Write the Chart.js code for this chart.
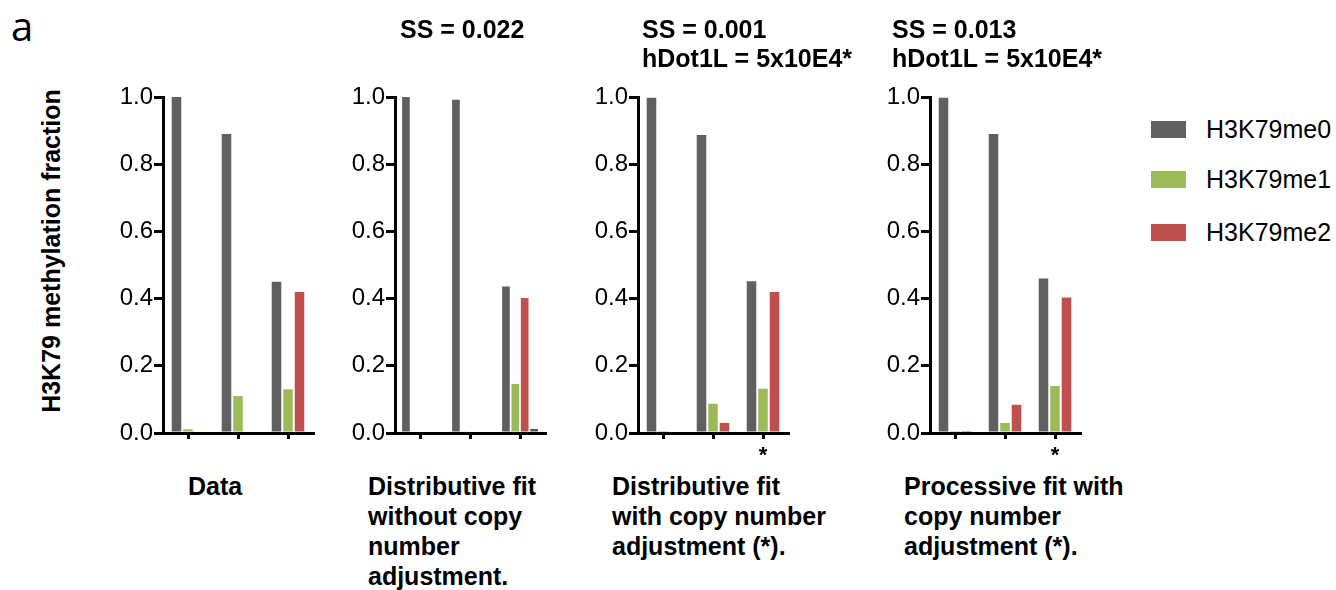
<!DOCTYPE html>
<html>
<head>
<meta charset="utf-8">
<script src="https://cdn.jsdelivr.net/npm/chart.js@4.4.0/dist/chart.umd.min.js"></script>
<style>
  body { margin: 0; width: 1336px; height: 590px; background: #fff; position: relative; overflow: hidden;
         font-family: "Liberation Sans", Arial, sans-serif; color: #000; }
  canvas { position: absolute; top: 0; }
  .lbl { position: absolute; font-weight: bold; font-size: 25px; white-space: pre; }
  .top { line-height: 29px; top: 15px; }
  .bottom { line-height: 30px; top: 471px; }
  .panel-a { position: absolute; left: 11px; top: -2px; font-family: "Open Sans", sans-serif; font-size: 40px; }
  .ytitle { position: absolute; left: 51px; top: 251px; font-weight: bold; font-size: 25px; white-space: nowrap;
            transform: translate(-50%, -50%) rotate(-90deg); }
  .leg { position: absolute; left: 1151px; width: 35px; height: 17px; }
  .legtxt { position: absolute; left: 1206px; font-size: 25px; line-height: 25px; }
</style>
</head>
<body>
<div class="panel-a">a</div>
<div class="ytitle">H3K79 methylation fraction</div>

<canvas id="p_data" width="240" height="470"></canvas>
<canvas id="p_dist" width="240" height="470"></canvas>
<canvas id="p_distcopy" width="240" height="470"></canvas>
<canvas id="p_proccopy" width="240" height="470"></canvas>

<div class="lbl top" style="left:400px">SS = 0.022</div>
<div class="lbl top" style="left:642px">SS = 0.001
hDot1L = 5x10E4*</div>
<div class="lbl top" style="left:892px">SS = 0.013
hDot1L = 5x10E4*</div>

<div class="lbl bottom" style="left:188px">Data</div>
<div class="lbl bottom" style="left:368px">Distributive fit
without copy
number
adjustment.</div>
<div class="lbl bottom" style="left:612px">Distributive fit
with copy number
adjustment (*).</div>
<div class="lbl bottom" style="left:904px">Processive fit with
copy number
adjustment (*).</div>

<div id="legend"></div>

<script>
// categories (three time points, unlabeled in the figure) and the marks under them
const categories = ['t1', 't2', 't3'];
const starNone = ['', '', ''];
const starLast = ['', '', '*'];
const yTicks = [0.0, 0.2, 0.4, 0.6, 0.8, 1.0];

const seriesNames = ['H3K79me0', 'H3K79me1', 'H3K79me2', 'H3K79me3'];
const seriesColors = ['#606060', '#9bbb59', '#c0504d', '#555555'];

// Data
const me0_data = [1.0, 0.89, 0.45];
const me1_data = [0.011, 0.11, 0.13];
const me2_data = [0.0, 0.0, 0.42];

// Distributive fit without copy number adjustment
const me0_dist = [1.0, 0.992, 0.436];
const me1_dist = [0.0, 0.005, 0.146];
const me2_dist = [0.0, 0.0, 0.402];
const me3_dist = [0.0, 0.0, 0.012];

// Distributive fit with copy number adjustment
const me0_distCopy = [0.998, 0.887, 0.452];
const me1_distCopy = [0.003, 0.087, 0.132];
const me2_distCopy = [0.0, 0.03, 0.42];

// Processive fit with copy number adjustment
const me0_procCopy = [0.998, 0.89, 0.46];
const me1_procCopy = [0.003, 0.03, 0.14];
const me2_procCopy = [0.003, 0.084, 0.403];

Chart.defaults.font.family = '"Liberation Sans", Arial, sans-serif';
Chart.defaults.color = '#000';

function makePanel(id, axisX, series, marks, catPct, barPct) {
    var canvas = document.getElementById(id);
    canvas.style.left = (axisX - 80) + 'px';
    var ctx = canvas.getContext('2d');
    return new Chart(ctx, {
        type: 'bar',
        data: {
            labels: categories,
            datasets: series.map(function (values, i) {
                return {
                    label: seriesNames[i],
                    data: values,
                    backgroundColor: seriesColors[i],
                    categoryPercentage: catPct,
                    barPercentage: barPct
                };
            })
        },
        options: {
            responsive: false,
            animation: false,
            layout: { padding: { top: 97, right: 10, left: 0, bottom: 0 } },
            plugins: { legend: { display: false }, tooltip: { enabled: false } },
            scales: {
                x: {
                    afterFit: function (scale) { scale.height = 37; },
                    grid: { display: true, drawOnChartArea: false, drawTicks: true, tickLength: 6,
                            lineWidth: 3, color: '#000', offset: false },
                    border: { display: true, color: '#000', width: 3 },
                    ticks: {
                        padding: 4,
                        font: { size: 22, weight: 'bold' },
                        callback: function (v, i) { return marks[i]; }
                    }
                },
                y: {
                    min: 0,
                    max: 1,
                    afterFit: function (scale) { scale.width = 80; },
                    afterBuildTicks: function (scale) {
                        scale.ticks = yTicks.map(function (v) { return { value: v }; });
                    },
                    grid: { display: true, drawOnChartArea: false, drawTicks: true, tickLength: 9,
                            lineWidth: 3, color: '#000' },
                    border: { display: true, color: '#000', width: 3 },
                    ticks: {
                        padding: 1,
                        font: { size: 24 },
                        callback: function (v) { return Number(v).toFixed(1); }
                    }
                }
            }
        }
    });
}

makePanel('p_data', 163, [me0_data, me1_data, me2_data], starNone, 0.69, 0.83);
makePanel('p_dist', 395, [me0_dist, me1_dist, me2_dist, me3_dist], starNone, 0.75, 0.82);
makePanel('p_distcopy', 638, [me0_distCopy, me1_distCopy, me2_distCopy], starLast, 0.69, 0.83);
makePanel('p_proccopy', 930, [me0_procCopy, me1_procCopy, me2_procCopy], starLast, 0.69, 0.83);

// legend (only the three plotted species are listed)
var legendTops = [121, 171, 224];
var legend = document.getElementById('legend');
for (var i = 0; i < 3; i++) {
    var box = document.createElement('div');
    box.className = 'leg';
    box.style.top = legendTops[i] + 'px';
    box.style.background = seriesColors[i];
    legend.appendChild(box);
    var txt = document.createElement('div');
    txt.className = 'legtxt';
    txt.style.top = (legendTops[i] - 4) + 'px';
    txt.textContent = seriesNames[i];
    legend.appendChild(txt);
}
</script>
</body>
</html>
